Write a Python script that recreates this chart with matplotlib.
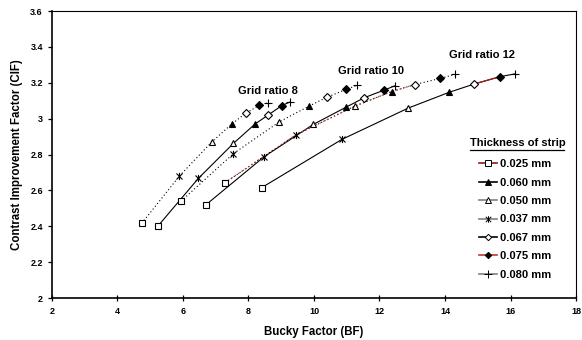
import matplotlib
matplotlib.use("Agg")
import matplotlib.pyplot as plt
from matplotlib.lines import Line2D
from matplotlib.path import Path

plt.rcParams['font.family'] = ['Liberation Sans', 'DejaVu Sans']
plt.rcParams['font.weight'] = 'bold'

# thickness of strip (mm) in ascending order, one point per thickness on each curve
thickness = ['0.025 mm', '0.037 mm', '0.050 mm', '0.060 mm', '0.067 mm', '0.075 mm', '0.080 mm']

# Grid ratio 8
bf_r8_a = [4.74, 5.89, 6.88, 7.49, 7.91, 8.33, 8.60]
cif_r8_a = [2.416, 2.680, 2.870, 2.970, 3.030, 3.074, 3.089]
bf_r8_b = [5.23, 6.47, 7.54, 8.20, 8.60, 9.02, 9.27]
cif_r8_b = [2.400, 2.667, 2.862, 2.970, 3.020, 3.073, 3.093]
# Grid ratio 10
bf_r10_a = [5.94, 7.54, 8.94, 9.85, 10.39, 10.98, 11.32]
cif_r10_a = [2.540, 2.805, 2.982, 3.070, 3.119, 3.163, 3.186]
bf_r10_b = [6.69, 8.48, 9.98, 10.97, 11.54, 12.14, 12.47]
cif_r10_b = [2.518, 2.788, 2.968, 3.063, 3.117, 3.159, 3.183]
# Grid ratio 12
bf_r12_a = [7.28, 9.44, 11.25, 12.37, 13.08, 13.85, 14.31]
cif_r12_a = [2.643, 2.909, 3.070, 3.151, 3.190, 3.224, 3.247]
bf_r12_b = [8.40, 10.85, 12.88, 14.13, 14.89, 15.68, 16.15]
cif_r12_b = [2.615, 2.884, 3.059, 3.147, 3.193, 3.234, 3.250]

grid_labels = ['Grid ratio 8', 'Grid ratio 10', 'Grid ratio 12']
grid_label_pos = [(7.68, 3.154), (10.73, 3.265), (14.12, 3.354)]

legend_order = ['0.025 mm', '0.060 mm', '0.050 mm', '0.037 mm', '0.067 mm', '0.075 mm', '0.080 mm']

star = Path([(-1, -1), (1, 1), (-1, 1), (1, -1), (0, -1.2), (0, 1.2)],
            [Path.MOVETO, Path.LINETO, Path.MOVETO, Path.LINETO, Path.MOVETO, Path.LINETO])
marker_style = {
    '0.025 mm': dict(marker='s', mfc='white', ms=4.2),
    '0.037 mm': dict(marker=star, mfc='black', ms=5.2),
    '0.050 mm': dict(marker='^', mfc='white', ms=4.7),
    '0.060 mm': dict(marker='^', mfc='black', ms=4.7),
    '0.067 mm': dict(marker='D', mfc='white', ms=3.6),
    '0.075 mm': dict(marker='D', mfc='black', ms=3.6),
    '0.080 mm': dict(marker='+', mfc='black', ms=6.0),
}
legend_line_color = {
    '0.025 mm': '#8b1a1a', '0.060 mm': 'black', '0.050 mm': '#808080',
    '0.037 mm': '#808080', '0.067 mm': 'black', '0.075 mm': '#c0392b', '0.080 mm': '#808080',
}

fig = plt.figure(figsize=(5.82, 3.40), dpi=100)
ax = fig.add_axes([0.0893, 0.1235, 0.9004, 0.8441])

dotted = (0, (1, 2.2))
curves = [
    (bf_r8_a, cif_r8_a, dotted), (bf_r8_b, cif_r8_b, '-'),
    (bf_r10_a, cif_r10_a, dotted), (bf_r10_b, cif_r10_b, '-'),
    (bf_r12_a, cif_r12_a, dotted), (bf_r12_b, cif_r12_b, '-'),
]
for xs, ys, ls in curves:
    ax.plot(xs, ys, color='black', lw=0.8, ls=ls, zorder=2)

# coloured segments
ax.plot(bf_r12_a[0:5], cif_r12_a[0:5], color='#c0392b', lw=0.9, ls=dotted, zorder=3)
ax.plot(bf_r12_b[4:6], cif_r12_b[4:6], color='#a0201a', lw=0.9, ls='-', zorder=3)

for i, t in enumerate(thickness):
    xs = [c[0][i] for c in curves]
    ys = [c[1][i] for c in curves]
    st = marker_style[t]
    ax.plot(xs, ys, ls='none', marker=st['marker'], mfc=st['mfc'], mec='black',
            ms=st['ms'], mew=0.8, zorder=4)

for lab, (x, y) in zip(grid_labels, grid_label_pos):
    ax.text(x, y, lab, fontsize=8, fontweight='bold', ha='left', va='center')

handles = []
for t in legend_order:
    st = marker_style[t]
    handles.append(Line2D([], [], color=legend_line_color[t], lw=1.2, marker=st['marker'],
                          mfc=st['mfc'], mec='black', ms=st['ms'] * 0.9, mew=0.7))
leg = ax.legend(handles, legend_order, loc='upper left', bbox_to_anchor=(0.815, 0.484),
                frameon=False, fontsize=8, handlelength=1.6, handletextpad=0.25,
                labelspacing=0.76, borderpad=0, borderaxespad=0)
for txt in leg.get_texts():
    txt.set_fontweight('bold')

ax.text(0.798, 0.541, 'Thickness of strip', transform=ax.transAxes, fontsize=8,
        fontweight='bold', ha='left', va='center')
ax.plot([0.798, 0.978], [0.515, 0.515], transform=ax.transAxes, color='black', lw=0.9,
        clip_on=False)

ax.set_xlim(2, 18)
ax.set_ylim(2, 3.6)
ax.set_xticks([2, 4, 6, 8, 10, 12, 14, 16, 18])
ax.set_yticks([2, 2.2, 2.4, 2.6, 2.8, 3.0, 3.2, 3.4, 3.6])
ax.set_yticklabels(['2', '2.2', '2.4', '2.6', '2.8', '3', '3.2', '3.4', '3.6'])
ax.tick_params(axis='both', labelsize=6.5, width=0.9, length=3)
ax.tick_params(axis='x', direction='inout', length=4, pad=4.5)
for lbl in ax.get_xticklabels() + ax.get_yticklabels():
    lbl.set_fontweight('bold')
ax.set_xlabel('Bucky Factor (BF)', fontsize=8.3, fontweight='bold', labelpad=7)
ax.set_ylabel('Contrast Improvement Factor (CIF)', fontsize=8.3, fontweight='bold', labelpad=5)
for s in ['left', 'bottom']:
    ax.spines[s].set_linewidth(1.2)
for s in ['top', 'right']:
    ax.spines[s].set_linewidth(0.8)

fig.savefig('out.png', dpi=100)
